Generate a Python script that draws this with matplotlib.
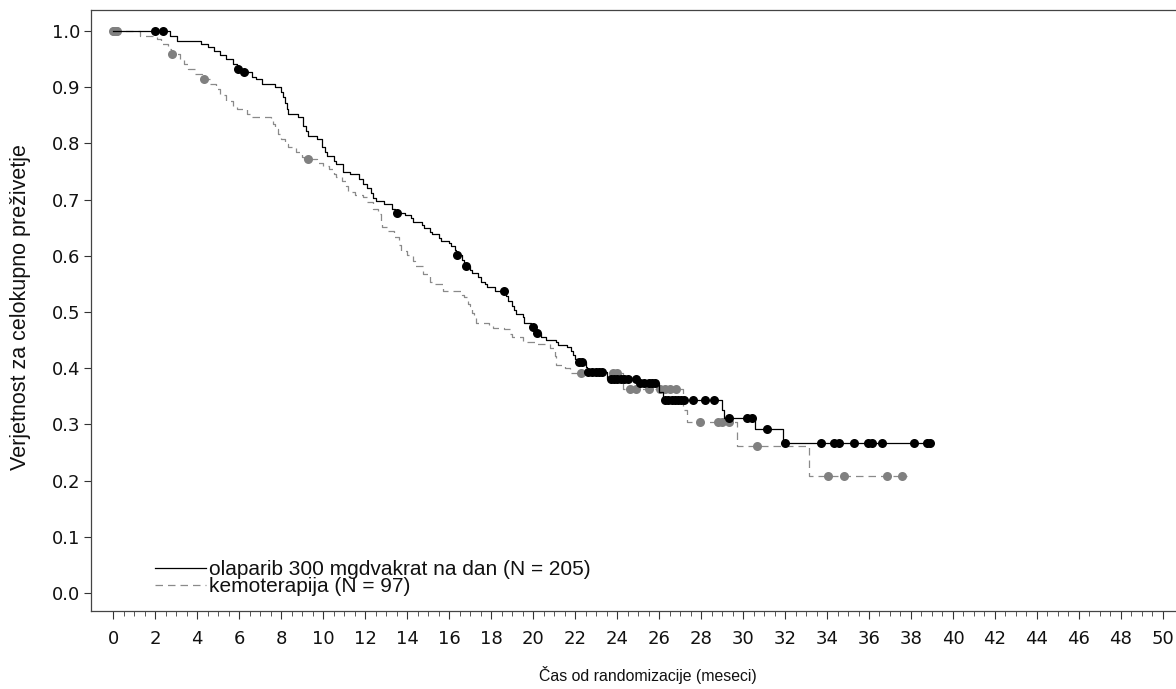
import numpy as np
import matplotlib
matplotlib.use("Agg")
import matplotlib.pyplot as plt
from matplotlib.lines import Line2D

# ---------------- data ----------------
ola_t = [0, 2.7, 3.05, 4.2, 4.5, 4.8, 5.1, 5.4, 5.7, 5.9, 6.1, 6.6, 6.8, 7.1, 7.7, 8.0, 8.1,
         8.2, 8.3, 8.35, 8.8, 9.05, 9.2, 9.3, 9.7, 9.95, 10.1, 10.2, 10.5, 10.6, 10.95, 11.3,
         11.7, 11.9, 12.1, 12.3, 12.4, 12.5, 12.9, 13.3, 13.45, 13.9, 14.2, 14.3, 14.7, 14.8,
         15.1, 15.2, 15.5, 15.6, 16.0, 16.1, 16.3, 16.35, 16.6, 16.7, 17.0, 17.1, 17.4, 17.5,
         17.7, 17.8, 18.2, 18.7, 18.8, 19.0, 19.1, 19.2, 19.5, 19.55, 19.9, 20.1, 20.15, 20.4,
         20.6, 21.1, 21.2, 21.6, 21.8, 21.9, 22.0, 22.1, 22.5, 22.55, 23.5, 25.0, 26.0, 26.2,
         29.0, 29.1, 30.57, 31.9]
ola_s = [1.0, 0.991, 0.983, 0.977, 0.972, 0.965, 0.957, 0.950, 0.941, 0.932, 0.927, 0.918,
         0.914, 0.905, 0.900, 0.891, 0.882, 0.872, 0.862, 0.852, 0.847, 0.831, 0.822, 0.813,
         0.808, 0.793, 0.785, 0.777, 0.768, 0.763, 0.750, 0.745, 0.736, 0.727, 0.720, 0.712,
         0.703, 0.697, 0.692, 0.684, 0.677, 0.672, 0.667, 0.661, 0.655, 0.650, 0.643, 0.638,
         0.631, 0.626, 0.622, 0.617, 0.610, 0.602, 0.592, 0.581, 0.575, 0.570, 0.562, 0.554,
         0.549, 0.544, 0.537, 0.528, 0.519, 0.510, 0.503, 0.496, 0.492, 0.481, 0.474, 0.468,
         0.463, 0.456, 0.451, 0.447, 0.442, 0.437, 0.430, 0.424, 0.417, 0.411, 0.403, 0.394,
         0.381, 0.374, 0.357, 0.343, 0.326, 0.311, 0.292, 0.267]
ola_end = 39.05
ola_cens = [2.0, 2.4, 5.95, 6.24, 13.5, 16.4, 16.8, 18.6, 20.0, 20.2, 22.2, 22.35, 22.6, 22.8,
            23.0, 23.15, 23.3, 23.7, 23.85, 24.0, 24.2, 24.35, 24.5, 24.9, 25.1, 25.3, 25.5,
            25.65, 25.8, 26.3, 26.45, 26.6, 26.75, 26.9, 27.05, 27.2, 27.6, 28.2, 28.6, 29.35,
            30.2, 30.45, 31.16, 32.0, 33.7, 34.35, 34.55, 35.3, 35.94, 36.13, 36.6, 38.14,
            38.75, 38.9]

chemo_t = [0, 1.3, 2.1, 2.3, 2.6, 2.75, 3.2, 3.4, 3.55, 3.9, 4.25, 4.6, 4.9, 5.1, 5.4, 5.7,
           5.9, 6.4, 6.6, 7.5, 7.6, 7.7, 7.85, 8.0, 8.2, 8.35, 8.7, 9.0, 9.1, 9.7, 10.0, 10.3,
           10.5, 10.6, 10.9, 11.1, 11.2, 11.5, 11.9, 12.1, 12.4, 12.6, 12.75, 12.8, 13.1, 13.4,
           13.6, 13.7, 14.0, 14.3, 14.4, 14.75, 15.1, 15.2, 15.7, 16.6, 16.7, 16.9, 17.0, 17.1,
           17.2, 17.3, 17.9, 18.1, 18.6, 18.9, 19.0, 19.5, 20.2, 20.8, 21.05, 21.1, 21.5, 21.75,
           24.3, 27.15, 27.35, 29.7, 33.15]
chemo_s = [1.0, 0.991, 0.986, 0.977, 0.968, 0.959, 0.950, 0.941, 0.932, 0.923, 0.914, 0.905,
           0.896, 0.887, 0.876, 0.865, 0.861, 0.852, 0.847, 0.843, 0.834, 0.825, 0.816, 0.808,
           0.799, 0.793, 0.784, 0.776, 0.772, 0.766, 0.759, 0.754, 0.745, 0.741, 0.733, 0.724,
           0.713, 0.709, 0.704, 0.695, 0.683, 0.674, 0.660, 0.651, 0.644, 0.633, 0.620, 0.608,
           0.602, 0.590, 0.581, 0.567, 0.554, 0.549, 0.537, 0.531, 0.526, 0.515, 0.510, 0.498,
           0.492, 0.481, 0.476, 0.472, 0.469, 0.460, 0.456, 0.447, 0.443, 0.436, 0.421, 0.406,
           0.400, 0.392, 0.363, 0.326, 0.304, 0.261, 0.209]
chemo_end = 37.8
chemo_cens = [0.0, 0.05, 0.1, 0.15, 0.2, 2.8, 4.33, 9.3, 22.3, 23.8, 24.0, 24.6, 24.9, 25.5,
              26.05, 26.3, 26.5, 26.8, 27.95, 28.8, 29.0, 29.35, 30.65, 34.03, 34.83, 36.84,
              37.55]

labels = ["olaparib 300 mgdvakrat na dan (N = 205)", "kemoterapija (N = 97)"]
xlabel = "Čas od randomizacije (meseci)"
ylabel = "Verjetnost za celokupno preživetje"
xticks = list(range(0, 51, 2))
yticks = [round(0.1 * i, 1) for i in range(11)]


def step_value(t, s, x):
    idx = np.searchsorted(np.asarray(t), x, side="right") - 1
    return np.asarray(s)[idx]


# ---------------- figure ----------------
W, H = 1176, 689
fig = plt.figure(figsize=(W / 100, H / 100), dpi=100)
ax = fig.add_axes([91 / W, (H - 611) / H, (W - 91) / W, (611 - 10) / H])

gray = "#8a8a8a"
dot_gray = "#808080"
dash = (0, (6, 4))

# chemo
ct = list(chemo_t) + [chemo_end]
cs = list(chemo_s) + [chemo_s[-1]]
ax.step(ct, cs, where="post", color=gray, lw=0.9, linestyle=dash, zorder=2)
cc = np.asarray(chemo_cens)
ax.plot(cc, step_value(chemo_t, chemo_s, cc), "o", color=dot_gray, ms=6.5, mec="none", zorder=3)

# olaparib
ot = list(ola_t) + [ola_end]
os_ = list(ola_s) + [ola_s[-1]]
ax.step(ot, os_, where="post", color="black", lw=0.9, zorder=4)
oc = np.asarray(ola_cens)
ax.plot(oc, step_value(ola_t, ola_s, oc), "o", color="black", ms=6.5, mec="none", zorder=5)

ax.set_xlim(-1.05, 50.62)
ax.set_ylim(-0.032, 1.0 + 21 / 562)

ax.set_xticks(xticks)
ax.set_xticks(np.arange(0, 50.01, 0.5), minor=True)
ax.set_yticks(yticks)
ax.set_yticklabels([f"{v:.1f}" for v in yticks])

for lab in ax.get_xticklabels() + ax.get_yticklabels():
    lab.set_fontfamily("DejaVu Sans")
    lab.set_fontsize(13)
    lab.set_color("#111111")

ax.tick_params(axis="x", which="major", length=6, width=0.8, color="#333333", pad=8)
ax.tick_params(axis="x", which="minor", length=3.5, width=0.7, color="#555555")
ax.tick_params(axis="y", which="major", length=5, width=0.8, color="#333333", pad=3)

ax.spines["right"].set_visible(False)
for sp in ["left", "bottom", "top"]:
    ax.spines[sp].set_color("#444444")
    ax.spines[sp].set_linewidth(0.9)

ax.set_xlabel(xlabel, fontfamily="Liberation Sans", fontsize=11.4, color="#111111", va="center")
ax.xaxis.set_label_coords(0.513, -0.106)
ax.set_ylabel(ylabel, fontfamily="Liberation Sans", fontsize=15.5, color="#111111", va="center")
ax.yaxis.set_label_coords(-0.065, 0.505)

handles = [Line2D([], [], color="black", lw=0.9),
           Line2D([], [], color=gray, lw=0.9, linestyle=dash)]
leg = ax.legend(handles, labels, loc="upper left", bbox_to_anchor=(0.059, 0.085),
                frameon=False, prop=dict(family="Liberation Sans", size=15.0),
                handlelength=2.45, handletextpad=0.15, labelspacing=-0.08, borderpad=0,
                borderaxespad=0)
for t in leg.get_texts():
    t.set_color("#111111")

fig.savefig("out.png", dpi=100)
